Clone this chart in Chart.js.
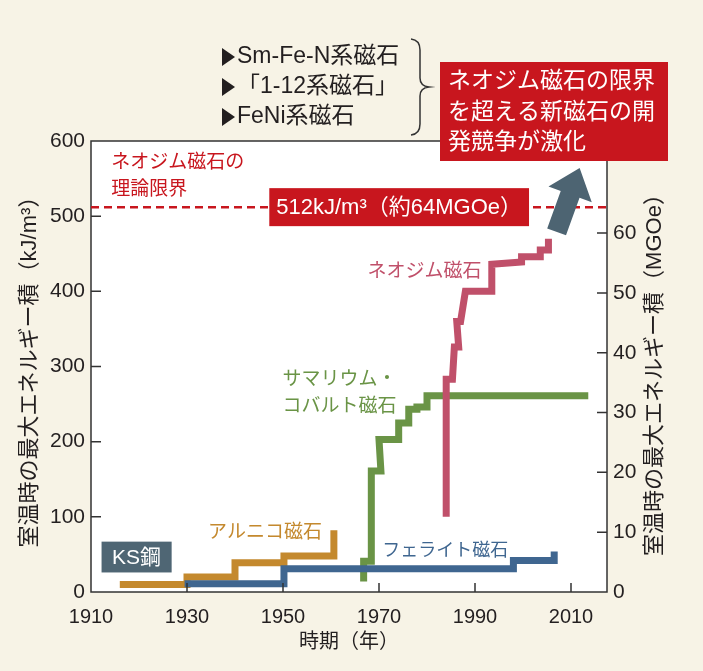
<!DOCTYPE html>
<html lang="ja">
<head>
<meta charset="utf-8">
<script src="https://cdn.jsdelivr.net/npm/chart.js@4.4.1/dist/chart.umd.min.js"></script>
<style>
  html, body { margin: 0; padding: 0; background: #f7f3e6; }
  canvas { display: block; }
</style>
</head>
<body>
<canvas id="chart" width="703" height="671"></canvas>
<script>
const FONT = "'Liberation Sans', 'Noto Sans CJK JP', sans-serif";
const INK = '#231f20';
const RED = '#c8161e';

// 1 MGOe = 7.9577 kJ/m3
const KJ_PER_MGOE = 7.9577;

const xTicks = [1910, 1930, 1950, 1970, 1990, 2010];
const yTicksLeft = [0, 100, 200, 300, 400, 500, 600];
const yTicksRight = [0, 10, 20, 30, 40, 50, 60];

// KS steel + alnico
const alnicoYears  = [1916, 1930, 1930, 1940, 1940, 1950.2, 1950.2, 1960.6, 1960.6];
const alnicoValues = [10, 10, 20, 20, 39, 39, 48, 48, 82];

// ferrite
const ferriteYears  = [1929.5, 1950.2, 1950.2, 1998, 1998, 2006.5, 2006.5];
const ferriteValues = [11, 11, 31, 31, 42, 42, 54];

// samarium-cobalt
const smcoYears  = [1966.8, 1966.8, 1968.4, 1968.4, 1970.4, 1970.0, 1974.1, 1974.1, 1976.2, 1976.2, 1977.9, 1977.9, 1980, 1980, 2013.6];
const smcoValues = [14, 41, 41, 161, 161, 203, 203, 225, 225, 243, 243, 246, 246, 261, 261];

// neodymium
const ndYears  = [1984.0, 1984.0, 1985.3, 1985.7, 1986.6, 1986.2, 1987.0, 1988.0, 1993.5, 1993.5, 1999.7, 1999.7, 2003.6, 2003.6, 2005.3, 2005.3];
const ndValues = [100, 283, 283, 326, 326, 360, 360, 400, 400, 436, 439, 446, 446, 455, 455, 470];

const ndLimit = 512;

const toPoints = (xs, ys) => xs.map((x, i) => ({ x: x, y: ys[i] }));

const lineSet = (label, xs, ys, color) => ({
  label: label,
  data: toPoints(xs, ys),
  borderColor: color,
  borderWidth: 7,
  pointRadius: 0,
  showLine: true,
  tension: 0,
  borderJoinStyle: 'miter',
  borderCapStyle: 'butt'
});

function text(ctx, str, x, y, size, color, align) {
  ctx.font = size + 'px ' + FONT;
  ctx.fillStyle = color;
  ctx.textAlign = align || 'left';
  ctx.textBaseline = 'middle';
  ctx.fillText(str, x, y);
}

const decor = {
  id: 'decor',
  beforeDraw(chart) {
    const { ctx, chartArea: a } = chart;
    ctx.save();
    ctx.fillStyle = '#f7f3e6';
    ctx.fillRect(0, 0, chart.width, chart.height);
    ctx.fillStyle = '#ffffff';
    ctx.fillRect(a.left, a.top, a.right - a.left, a.bottom - a.top);
    ctx.restore();
  },
  afterDraw(chart) {
    const { ctx, chartArea: a } = chart;
    const sx = chart.scales.x, sy = chart.scales.y, sy2 = chart.scales.y2;
    const px = v => sx.getPixelForValue(v);
    const py = v => sy.getPixelForValue(v);
    ctx.save();

    // frame + inner ticks
    ctx.strokeStyle = '#333333';
    ctx.lineWidth = 1.5;
    ctx.strokeRect(a.left, a.top, a.right - a.left, a.bottom - a.top);
    ctx.beginPath();
    xTicks.slice(1).forEach(v => { ctx.moveTo(px(v), a.bottom); ctx.lineTo(px(v), a.bottom - 9); });
    yTicksLeft.slice(1, -1).forEach(v => { ctx.moveTo(a.left, py(v)); ctx.lineTo(a.left + 10, py(v)); });
    yTicksRight.slice(1).forEach(v => {
      const y = sy2.getPixelForValue(v);
      ctx.moveTo(a.right, y); ctx.lineTo(a.right - 10, y);
    });
    ctx.stroke();

    // theoretical limit
    ctx.strokeStyle = RED;
    ctx.lineWidth = 2.5;
    ctx.setLineDash([8, 5]);
    ctx.beginPath();
    ctx.moveTo(a.left, py(ndLimit));
    ctx.lineTo(a.right, py(ndLimit));
    ctx.stroke();
    ctx.setLineDash([]);

    // arrow
    const s = [px(2007.0), py(479)], t = [px(2011.8), py(564)];
    const len = Math.hypot(t[0] - s[0], t[1] - s[1]);
    const d = [(t[0] - s[0]) / len, (t[1] - s[1]) / len];
    const n = [-d[1], d[0]];
    const h = [t[0] - d[0] * 28, t[1] - d[1] * 28];
    const P = (b, k) => [b[0] + n[0] * k, b[1] + n[1] * k];
    const poly = [P(s, -10), P(h, -10), P(h, -23), t, P(h, 23), P(h, 10), P(s, 10)];
    ctx.fillStyle = '#4d6472';
    ctx.beginPath();
    poly.forEach((p, i) => i ? ctx.lineTo(p[0], p[1]) : ctx.moveTo(p[0], p[1]));
    ctx.closePath();
    ctx.fill();

    // series labels
    text(ctx, 'ネオジム磁石', px(1967.6), py(426), 19, '#c0506a');
    text(ctx, 'サマリウム・', px(1949.9), py(283), 19, '#6a9446');
    text(ctx, 'コバルト磁石', px(1949.9), py(246), 19, '#6a9446');
    text(ctx, 'アルニコ磁石', px(1934.4), py(79), 19, '#c4892e');
    text(ctx, 'フェライト磁石', px(1970.7), py(54), 18, '#3f6690');
    text(ctx, 'ネオジム磁石の', px(1914.2), py(571), 19, RED);
    text(ctx, '理論限界', px(1914.2), py(535), 19, RED);

    // KS steel tag
    ctx.fillStyle = '#4f6674';
    ctx.fillRect(px(1912.2), py(67), px(1926.8) - px(1912.2), py(26) - py(67));
    text(ctx, 'KS鋼', (px(1912.2) + px(1926.8)) / 2, (py(67) + py(26)) / 2 + 1, 21, '#ffffff', 'center');

    // limit value tag
    ctx.font = '22px ' + FONT;
    const tag = '512kJ/m³（約64MGOe）';
    const tw = ctx.measureText(tag).width + 14;
    const cx = px(1974.2), cy = py(ndLimit);
    ctx.fillStyle = RED;
    ctx.fillRect(cx - tw / 2, cy - 19, tw, 38);
    text(ctx, tag, cx, cy + 1, 22, '#ffffff', 'center');

    // candidates list
    const items = ['Sm-Fe-N系磁石', '「1-12系磁石」', 'FeNi系磁石'];
    items.forEach((it, i) => {
      const y = 57 + i * 30;
      ctx.fillStyle = INK;
      ctx.beginPath();
      ctx.moveTo(222, y - 9); ctx.lineTo(235, y); ctx.lineTo(222, y + 9);
      ctx.closePath();
      ctx.fill();
      text(ctx, it, 237, y, 23, INK);
    });

    // brace
    ctx.strokeStyle = '#333333';
    ctx.lineWidth = 1.5;
    ctx.beginPath();
    ctx.moveTo(411, 39);
    ctx.quadraticCurveTo(420, 40, 420, 50);
    ctx.lineTo(420, 78);
    ctx.quadraticCurveTo(420, 86, 429, 87);
    ctx.quadraticCurveTo(420, 88, 420, 96);
    ctx.lineTo(420, 124);
    ctx.quadraticCurveTo(420, 134, 411, 135);
    ctx.stroke();

    // headline box
    ctx.fillStyle = RED;
    ctx.fillRect(440, 62, 228, 99);
    ['ネオジム磁石の限界', 'を超える新磁石の開', '発競争が激化'].forEach((ln, i) => {
      text(ctx, ln, 448, 82 + i * 30.5, 23, '#ffffff');
    });

    // right axis title
    ctx.translate(655, (a.top + a.bottom) / 2 + 3);
    ctx.rotate(-Math.PI / 2);
    text(ctx, '室温時の最大エネルギー積（MGOe）', 0, 0, 22, INK, 'center');
    ctx.restore();
  }
};

new Chart(document.getElementById('chart'), {
  type: 'scatter',
  data: {
    datasets: [
      lineSet('ネオジム磁石', ndYears, ndValues, '#c0506a'),
      lineSet('フェライト磁石', ferriteYears, ferriteValues, '#3f6690'),
      lineSet('アルニコ磁石', alnicoYears, alnicoValues, '#c4892e'),
      lineSet('サマリウム・コバルト磁石', smcoYears, smcoValues, '#6a9446')
    ]
  },
  options: {
    responsive: false,
    animation: false,
    devicePixelRatio: 1,
    layout: { padding: { top: 141, left: 0, right: 0, bottom: 0 } },
    plugins: { legend: { display: false }, tooltip: { enabled: false } },
    scales: {
      x: {
        type: 'linear', min: 1910, max: 2017.5,
        afterBuildTicks: s => { s.ticks = xTicks.map(v => ({ value: v })); },
        afterFit: s => { s.height = 79; },
        grid: { display: false, drawTicks: false },
        border: { display: false },
        ticks: { color: INK, font: { family: FONT, size: 20 }, padding: 13, maxRotation: 0, autoSkip: false, callback: v => String(v) },
        title: { display: true, text: '時期（年）', color: INK, font: { family: FONT, size: 20 }, padding: { top: 0, bottom: 17 } }
      },
      y: {
        position: 'left', min: 0, max: 600,
        afterBuildTicks: s => { s.ticks = yTicksLeft.map(v => ({ value: v })); },
        afterFit: s => { s.width = 91; },
        grid: { display: false, drawTicks: false },
        border: { display: false },
        ticks: { color: INK, font: { family: FONT, size: 21 }, padding: 6 },
        title: { display: true, text: '室温時の最大エネルギー積（kJ/m³）', color: INK, font: { family: FONT, size: 22 }, padding: { top: 17, bottom: 0 } }
      },
      y2: {
        position: 'right', min: 0, max: 600 / KJ_PER_MGOE,
        afterBuildTicks: s => { s.ticks = yTicksRight.map(v => ({ value: v })); },
        afterFit: s => { s.width = 96; },
        grid: { display: false, drawTicks: false },
        border: { display: false },
        ticks: { color: INK, font: { family: FONT, size: 21 }, padding: 6 }
      }
    }
  },
  plugins: [decor]
});
</script>
</body>
</html>
